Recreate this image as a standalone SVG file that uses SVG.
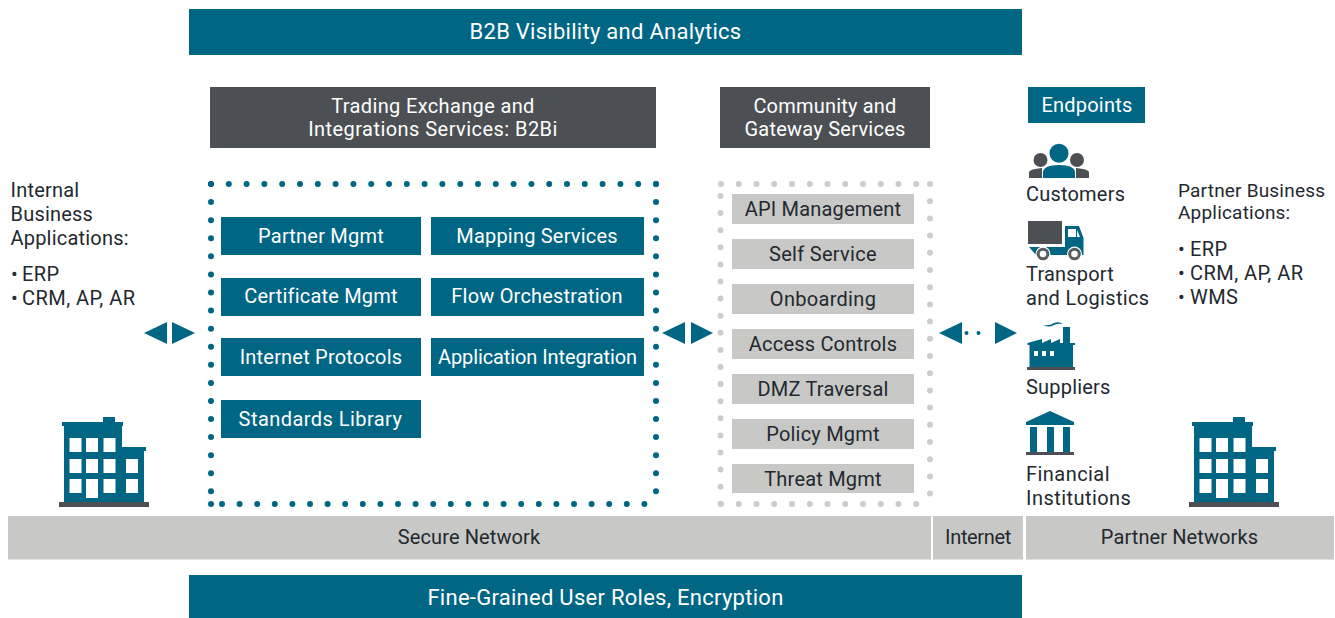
<svg xmlns="http://www.w3.org/2000/svg" width="1335" height="618" viewBox="0 0 1335 618">
<style>
text{font-family:Roboto,"Liberation Sans",sans-serif;font-size:20px;fill:#23282f;letter-spacing:.2px}
.c{text-anchor:middle}
.w{fill:#fff}
.b{fill:#006684}
.d{fill:#4c5054}
.g{fill:#c8c8c6}
.l{font-size:22px;letter-spacing:.27px}
.s{font-size:19px}
.wide{letter-spacing:.45px}
.bd{fill:none;stroke:#006684;stroke-width:6;stroke-linecap:round}
.gd{fill:none;stroke:#cdcdcb;stroke-width:6;stroke-linecap:round}
</style>
<defs>
<g id="building">
<path class="b" d="M1 90V9H-1V5H40V0H52V5H60V9H59V30H83V34H81V90Z"/>
<g fill="#fff">
<rect x="6.500" y="21" width="12" height="14"/><rect x="23" y="21" width="12" height="14"/><rect x="40.500" y="21" width="12" height="14"/>
<rect x="6.500" y="42" width="12" height="14"/><rect x="23" y="42" width="12" height="14"/><rect x="40.500" y="42" width="12" height="14"/><rect x="63" y="42" width="12" height="14"/>
<rect x="6.500" y="62" width="12" height="14"/><rect x="23" y="62" width="12" height="19"/><rect x="40.500" y="62" width="12" height="14"/><rect x="63" y="62" width="12" height="14"/>
</g>
<rect class="d" x="-4" y="85" width="90" height="5"/>
</g>
</defs>

<g id="connectors">
<path class="b" d="M144 333L167 322V344Z"/><path class="b" d="M172 322L195 333L172 344Z"/>
<path class="b" d="M662 333L685 322V344Z"/><path class="b" d="M691 322L713 333L691 344Z"/>
<path class="b" d="M939 333L962 322V344Z"/><path class="b" d="M995 322L1017 333L995 344Z"/>
<circle class="b" cx="966.500" cy="333" r="2"/><circle class="b" cx="978.500" cy="333" r="2"/>
</g>

<g id="node-visibility"><rect class="b" x="189" y="9" width="833" height="46"/><text class="c w l" x="605.500" y="39">B2B Visibility and Analytics</text></g>
<g id="node-trading"><rect class="d" x="210" y="87" width="446" height="61"/><text class="c w" x="433" y="113" style="letter-spacing:.35px">Trading Exchange and</text><text class="c w wide" x="433" y="136">Integrations Services: B2Bi</text></g>
<g id="node-community"><rect class="d" x="720" y="87" width="210" height="61"/><text class="c w" x="825" y="113">Community and</text><text class="c w" x="825" y="136" style="letter-spacing:.25px">Gateway Services</text></g>
<g id="node-endpoints"><rect class="b" x="1028" y="87" width="117" height="36"/><text class="c w" x="1087" y="112">Endpoints</text></g>

<g id="node-internal"><text x="10.500" y="197">Internal</text><text x="10.500" y="221">Business</text><text x="10.500" y="245">Applications:</text><text class="wide" x="11" y="281">• <tspan x="22">ERP</tspan></text><text class="wide" x="11" y="305">• <tspan x="22">CRM, AP, AR</tspan></text></g>
<g id="node-partner-apps"><text class="s" x="1178" y="197">Partner Business</text><text class="s" x="1178" y="219">Applications:</text><text class="wide" x="1178" y="256">• <tspan x="1190">ERP</tspan></text><text class="wide" x="1178" y="280">• <tspan x="1190">CRM, AP, AR</tspan></text><text class="wide" x="1178" y="304">• <tspan x="1190">WMS</tspan></text></g>

<g id="node-b2bi-border">
<path class="bd" d="M656 184H211" stroke-dasharray="0 17.8"/>
<path class="bd" d="M656 184V504" stroke-dasharray="0 18.08"/>
<path class="bd" d="M211 184V504" stroke-dasharray="0 18.08"/>
<path class="bd" d="M222 504H656" stroke-dasharray="0 17.6"/>
<circle class="b" cx="211" cy="504" r="3"/>
</g>
<g id="node-partner-mgmt"><rect class="b" x="221" y="217" width="200" height="38"/><text class="c w" x="321" y="243">Partner Mgmt</text></g>
<g id="node-mapping"><rect class="b" x="431" y="217" width="213" height="38"/><text class="c w" x="537" y="243">Mapping Services</text></g>
<g id="node-certificate"><rect class="b" x="221" y="278" width="200" height="38"/><text class="c w" x="321" y="303">Certificate Mgmt</text></g>
<g id="node-flow"><rect class="b" x="431" y="278" width="213" height="38"/><text class="c w" x="537" y="303">Flow Orchestration</text></g>
<g id="node-protocols"><rect class="b" x="221" y="338" width="200" height="38"/><text class="c w" x="321" y="364">Internet Protocols</text></g>
<g id="node-appint"><rect class="b" x="431" y="338" width="213" height="38"/><text class="c w" x="537.500" y="364" style="letter-spacing:-.1px">Application Integration</text></g>
<g id="node-standards"><rect class="b" x="221" y="400" width="200" height="38"/><text class="c w" x="320.500" y="426" style="letter-spacing:.45px">Standards Library</text></g>

<g id="node-gateway-border">
<path class="gd" d="M721 184H931" stroke-dasharray="0 17.75"/>
<path class="gd" d="M721 504H931" stroke-dasharray="0 17.75"/>
<path class="gd" d="M720.500 196V504" stroke-dasharray="0 17.1"/>
<path class="gd" d="M930 184V504" stroke-dasharray="0 17.2"/>
</g>
<g id="node-api"><rect class="g" x="732" y="194" width="182" height="30"/><text class="c" x="823" y="216">API Management</text></g>
<g id="node-self"><rect class="g" x="732" y="239" width="182" height="30"/><text class="c" x="823" y="261" style="letter-spacing:.3px">Self Service</text></g>
<g id="node-onboarding"><rect class="g" x="732" y="284" width="182" height="30"/><text class="c" x="823" y="306" style="letter-spacing:.3px">Onboarding</text></g>
<g id="node-access"><rect class="g" x="732" y="329" width="182" height="30"/><text class="c" x="823" y="351">Access Controls</text></g>
<g id="node-dmz"><rect class="g" x="732" y="374" width="182" height="30"/><text class="c" x="823" y="396">DMZ Traversal</text></g>
<g id="node-policy"><rect class="g" x="732" y="419" width="182" height="30"/><text class="c" x="823" y="441">Policy Mgmt</text></g>
<g id="node-threat"><rect class="g" x="732" y="464" width="182" height="29"/><text class="c" x="823" y="486">Threat Mgmt</text></g>

<g id="node-customers">
<circle class="d" cx="1040.500" cy="160" r="7"/><circle class="d" cx="1077" cy="160" r="7"/>
<path class="d" d="M1029 178V172Q1030 169 1042 168V178ZM1089 178V172Q1088 169 1076 168V178Z"/>
<circle class="b" cx="1059" cy="153.300" r="9.500"/>
<path class="b" d="M1043 178V172Q1044 165 1059 165Q1074 165 1075 172V178Z"/>
<text x="1026" y="201">Customers</text>
</g>
<g id="node-transport">
<rect class="d" x="1028" y="221" width="34" height="23"/>
<path class="b" d="M1029 247H1065V226H1079L1083.500 238V255H1036Z"/>
<path fill="#fff" d="M1068 229H1076V237H1068ZM1077 230L1080 237H1077Z"/>
<circle cx="1043" cy="254" r="7.500" fill="#fff"/><circle cx="1074.500" cy="254" r="7.500" fill="#fff"/>
<circle cx="1043" cy="254" r="4.800" fill="#fff" stroke="#5a5e62" stroke-width="3"/><circle cx="1074.500" cy="254" r="4.800" fill="#fff" stroke="#5a5e62" stroke-width="3"/>
<text x="1026" y="281">Transport</text><text x="1026" y="305" style="letter-spacing:.35px">and Logistics</text>
</g>
<g id="node-suppliers">
<path class="b" d="M1029.500 367V345H1027.500V343L1042 339V343L1051 339V343L1060 339V343H1063V327H1070V343H1075V345H1073V367Z"/>
<path class="b" d="M1043 325Q1050 326 1054 323Q1059 321 1063 324Q1058 323 1054 325Q1049 328 1043 325Z"/>
<rect x="1034" y="351" width="4" height="5" fill="#fff"/><rect x="1042" y="351" width="4" height="5" fill="#fff"/><rect x="1050" y="351" width="4" height="5" fill="#fff"/>
<rect class="d" x="1027" y="367" width="48" height="3"/>
<text x="1026" y="394">Suppliers</text>
</g>
<g id="node-financial">
<path class="b" d="M1026 422L1050 411L1074 422V425H1026Z"/>
<rect class="b" x="1030" y="427" width="7" height="25"/><rect class="b" x="1047" y="427" width="7" height="25"/><rect class="b" x="1063" y="427" width="7" height="25"/>
<rect class="d" x="1026" y="452" width="48" height="3"/>
<text class="wide" x="1026" y="481">Financial</text><text class="wide" x="1026" y="505">Institutions</text>
</g>
<use id="node-hq" href="#building" x="63" y="417"/>
<use id="node-partner-hq" href="#building" x="1193" y="417"/>

<g id="node-secure"><rect class="g" x="8" y="516" width="923" height="43.500"/><text class="c" x="469" y="544" style="letter-spacing:.1px">Secure Network</text></g>
<g id="node-internet"><rect class="g" x="933" y="516" width="90" height="43.500"/><text class="c" x="978" y="544" style="letter-spacing:-.35px">Internet</text></g>
<g id="node-partner-net"><rect class="g" x="1026" y="516" width="308" height="43.500"/><text class="c" x="1179.500" y="544" style="letter-spacing:.1px">Partner Networks</text></g>
<g id="node-roles"><rect class="b" x="189" y="575" width="833" height="43"/><text class="c w l" x="605.500" y="605">Fine-Grained User Roles, Encryption</text></g>
</svg>
